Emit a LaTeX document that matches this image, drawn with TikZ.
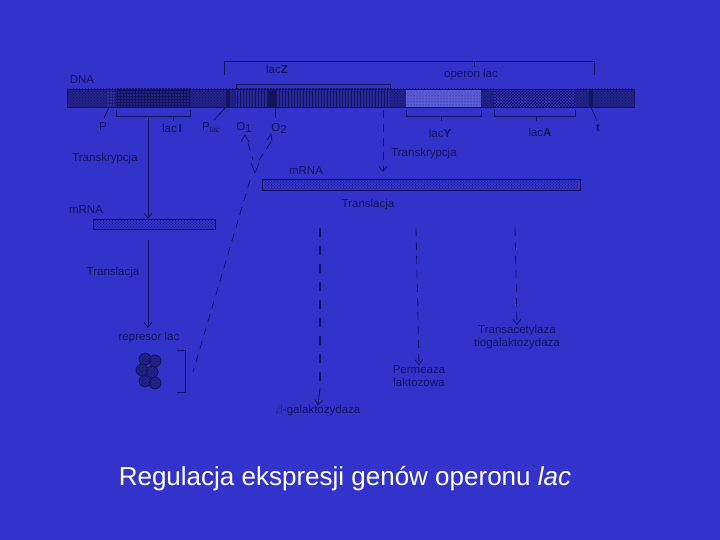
\documentclass[tikz,border=0pt]{standalone}
\usepackage{fontspec}
\setmainfont{Liberation Sans}
\usetikzlibrary{patterns,arrows.meta}
\definecolor{bg}{HTML}{3333CC}
\definecolor{ink}{HTML}{14145A}
\begin{document}
\begin{tikzpicture}[x=1pt,y=-1pt,
  lbl/.style={text=ink,font=\fontsize{11.5}{13}\selectfont,inner sep=0pt},
  ln/.style={draw=ink,line width=0.8pt},
  dsh/.style={draw=ink,line width=0.8pt,dash pattern=on 8pt off 6pt},
  tipv/.style={-{Straight Barb[length=5pt,width=8pt]}}]
\fill[bg] (0,0) rectangle (720,540);
\useasboundingbox (0,0) rectangle (720,540);
% DNA bar
\fill[ink!55!bg] (67,89) rectangle (634,107);
\fill[pattern=crosshatch dots,pattern color=ink] (67,89) rectangle (634,107);
\fill[pattern=dots,pattern color=bg!60!white] (106,89) rectangle (114,107);
\fill[ink!60!bg] (116,89) rectangle (190,107);
\fill[pattern=grid,pattern color=ink] (116,89) rectangle (190,107);
\fill[ink!40!bg] (236,89) rectangle (390,107);
\fill[pattern=vertical lines,pattern color=ink] (236,89) rectangle (390,107);
\fill[ink] (226,89) rectangle (230,107);
\fill[ink] (268,89) rectangle (276,107);
\fill[bg!80!white] (406,89) rectangle (481,107);
\fill[pattern=dots,pattern color=ink] (406,89) rectangle (481,107);
\fill[ink!90!black] (494,89) rectangle (575,107);
\fill[pattern=crosshatch,pattern color=bg] (494,89) rectangle (575,107);
\fill[ink] (589,89) rectangle (593,107);
\draw[ink,line width=0.6pt] (67,89) rectangle (634,107);
% top brackets
\draw[ln] (224,75) -- (224,61) -- (594,61) -- (594,75);
\draw[ln] (474,61) -- (474,67);
\draw[ln] (236,89) -- (236,84) -- (390,84) -- (390,89);
\node[lbl] (lz) at (277,69) {lac\textbf{Z}};
\node[lbl] (ol) at (471,75) {operon lac};
\node[lbl] (dl) at (82,80) {DNA};
% bottom brackets
\draw[ln] (116,110) -- (116,116) -- (190,116) -- (190,110); \draw[ln] (173,116) -- (173,121);
\draw[ln] (406,110) -- (406,116) -- (481,116) -- (481,110); \draw[ln] (441,116) -- (441,121);
\draw[ln] (494,110) -- (494,116) -- (575,116) -- (575,110); \draw[ln] (536,116) -- (536,121);
\draw[ln] (109,107) -- (104,118);
\draw[ln] (226,107) -- (214,120);
\draw[ln] (591,107) -- (597,121);
\draw[ln] (275,107) -- (275,118);
\node[lbl] (p) at (103,127) {P};
\node[lbl] (li) at (172,128) {lac\,\textbf{I}};
\node[lbl] (pl) at (211,128) {P\raisebox{-2pt}{\fontsize{8}{8}\selectfont\itshape lac}};
\node[lbl] (o1) at (244,127) {O\raisebox{-2pt}{1}};
\node[lbl] (o2) at (279,128) {O\raisebox{-2pt}{2}};
\node[lbl] (ly) at (440,133) {lac\textbf{Y}};
\node[lbl] (la) at (540,132) {lac\textbf{A}};
\node[lbl] (t) at (598,128) {\textbf{t}};
% operator symbols
\draw[ln] (241,142) -- (245,135) -- (249,142);
\draw[ln] (267,140) -- (271,134) -- (272,141);
\draw[dsh] (248,143) -- (253,160);
\draw[dsh] (271,142) -- (259,160);
\draw[ln] (251,163) -- (255,173) -- (259,163);
% left pathway
\coordinate (lt) at (148,118);
\node[lbl] (tr1) at (105,159) {Transkrypcja};
\node[lbl] (m1) at (86,210) {mRNA};
\node[draw=ink,line width=0.6pt,minimum width=122pt,minimum height=10pt,inner sep=0pt,pattern=crosshatch dots,pattern color=ink] (mr1) at (154,224) {};
\draw[ln,tipv] (lt) -- (mr1.north -| lt);
\node[lbl] (tl1) at (113,273) {Translacja};
\node[lbl] (rep) at (149,338) {represor lac};
\draw[ln,tipv] (148,240) -- (148,328);
\foreach \px/\py in {145/359, 155/361, 142/370, 152/372, 145/381, 155/383}
  \fill[ink!55!bg] (\px,\py) circle (6pt);
\foreach \px/\py in {145/359, 155/361, 142/370, 152/372, 145/381, 155/383}
  \draw[ink,line width=0.8pt,pattern=crosshatch dots,pattern color=ink] (\px,\py) circle (6pt);
\draw[ln] (177,350) -- (185,350) -- (185,392) -- (177,392);
\coordinate (vb) at (250,180);
\coordinate (ve) at (193,372);
\draw[dsh] (vb) -- (ve);
% right pathway
\draw[dsh,tipv] (383,110) -- (383,172);
\node[lbl] (tr2) at (424,154) {Transkrypcja};
\node[lbl] (m2) at (306,171) {mRNA};
\node[draw=ink,line width=0.6pt,minimum width=318pt,minimum height=11pt,inner sep=0pt,pattern=crosshatch dots,pattern color=ink] (mr2) at (421,185) {};
\node[lbl] (tl2) at (368,205) {Translacja};
\node[lbl] (bg1) at (318,411) {$\beta$-galaktozydaza};
\node[lbl,align=center] (pm) at (419,376) {Permeaza\\laktozowa};
\node[lbl,align=center] (ta) at (517,337) {Transacetylaza\\tiogalaktozydaza};
\draw[ink,line width=1.6pt,dash pattern=on 9pt off 9pt] (320,228) -- (320,390);
\draw[ln,tipv] (320,388) -- (bg1.north);
\draw[dsh,tipv] (416,228) -- (pm.north);
\draw[dsh,tipv] (515,228) -- (ta.north);
% title
\node[text=white,font=\fontsize{26}{29}\selectfont,inner sep=0pt] (title) at (345,479) {Regulacja ekspresji genów operonu \textit{lac}};
\end{tikzpicture}
\end{document}
